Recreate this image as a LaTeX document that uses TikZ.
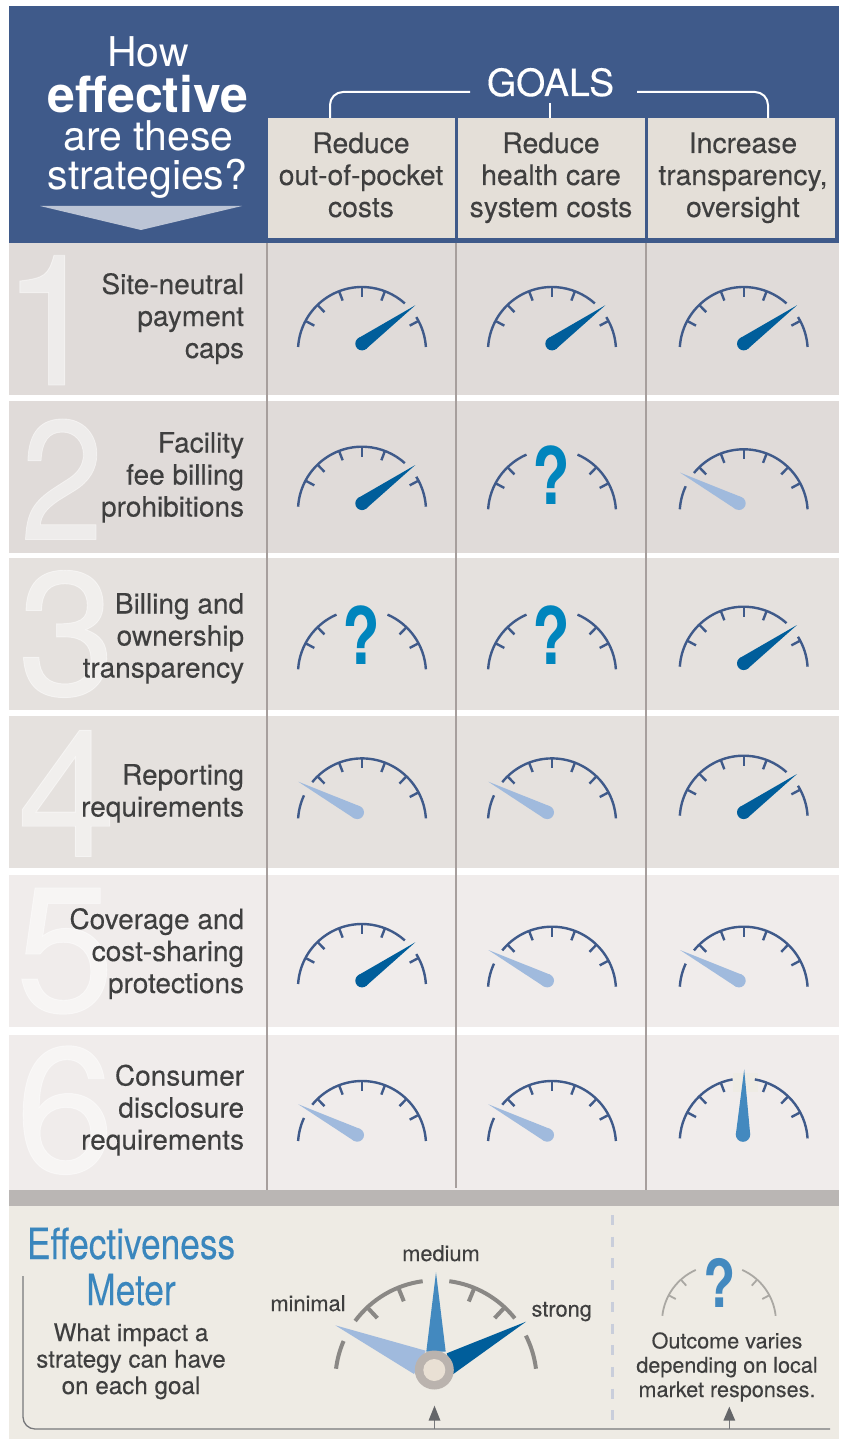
\documentclass[tikz,border=0pt]{standalone}
\usepackage{fontspec}
\setmainfont{TeX Gyre Heros}
\newfontfamily\bodyfont[FakeBold=0.2]{TeX Gyre Heros}
\newfontfamily\digitfont[FakeBold=0.5]{TeX Gyre Heros}
\usetikzlibrary{calc}
\definecolor{hdr}{HTML}{3F5A8A}
\definecolor{goalbg}{HTML}{E4DFD8}
\definecolor{rowa}{HTML}{E0DBD9}
\definecolor{rowb}{HTML}{E5E1DE}
\definecolor{rowc}{HTML}{F0ECEB}
\definecolor{band}{HTML}{BAB6B4}
\definecolor{foot}{HTML}{EEEBE4}
\definecolor{ink}{HTML}{3F3F3F}
\definecolor{weakc}{HTML}{A0BADD}
\definecolor{medc}{HTML}{4389BF}
\definecolor{strongc}{HTML}{005E9B}
\definecolor{qmain}{HTML}{0085BD}
\definecolor{sep}{HTML}{A79F9D}
\definecolor{legarc}{HTML}{8A8885}
\definecolor{legarcb}{HTML}{AAA8A3}
\definecolor{rulec}{HTML}{77787B}
\definecolor{dashc}{HTML}{C9CEDB}
\definecolor{titlec}{HTML}{3A86BD}
\tikzset{
  gaugeline/.style={draw=hdr,line width=2.4pt},
  goalbox/.style={fill=goalbg,inner sep=0pt,minimum width=#1,minimum height=120pt,anchor=north west},
  goaltext/.style={inner sep=0pt,text=ink,align=center,anchor=base,font=\bodyfont\fontsize{28.3}{32}\selectfont},
  rowtext/.style={inner sep=0pt,text=ink,align=right,anchor=base east,font=\bodyfont\fontsize{28}{32}\selectfont},
  digit/.style={inner sep=0pt,anchor=base,text=white,text opacity=.48,font=\digitfont\fontsize{178}{178}\selectfont},
  headtext/.style={inner sep=0pt,text=white,anchor=base},
  leglabel/.style={inner sep=0pt,text=ink,anchor=base,font=\bodyfont\fontsize{21.8}{24}\selectfont},
  sepline/.style={draw=sep,line width=1.2pt},
  ruleline/.style={draw=rulec,line width=1.3pt},
}
\newcommand{\garc}[2]{\draw[gaugeline] (#1:64pt) arc[start angle=#1,end angle=#2,radius=64pt];}
\newcommand{\gticks}[1]{\foreach \a in {#1} \draw[gaugeline] (\a:64pt) -- (\a:54pt);}
\newcommand{\gStrong}[2]{\begin{scope}[shift={(#1,#2+4)},y=1pt]
  \garc{176.4}{48}\garc{32}{3.6}\gticks{152,134,111,90,69,28}
  \fill[strongc] (53.3,45.7) -- (3.9,1.9) -- (-3.9,12.7) -- cycle;
  \fill[strongc] (0,7.3) circle (6.7pt);
\end{scope}}
\newcommand{\gWeak}[2]{\begin{scope}[shift={(#1,#2+4)},y=1pt]
  \garc{176.4}{155}\garc{141}{3.6}\gticks{134,111,90,69,46,28}
  \fill[weakc] (-63.7,40.7) -- (-1.8,16) -- (-7.8,4) -- cycle;
  \fill[weakc] (-4.7,10) circle (6.7pt);
\end{scope}}
\newcommand{\gMed}[2]{\begin{scope}[shift={(#1,#2+4)},y=1pt]
  \fill[foot] (-11,69) rectangle (14,50);
  \garc{176.4}{100}\garc{80}{3.6}\gticks{152,134,111,69,46,28}
  \fill[medc] (.5,73) -- (-7.9,7.8) -- (6.5,7.8) -- cycle;
  \fill[medc] (-.7,7.8) circle (7.2pt);
\end{scope}}
\newcommand{\gQ}[2]{\begin{scope}[shift={(#1,#2+4)},y=1pt]
  \garc{176.4}{113.5}\garc{66.5}{3.6}\gticks{152,134,46,28}
  \node[inner sep=0pt,anchor=base,text=qmain] at (-1,8.5) {\scalebox{.78}[1]{\fontsize{79}{79}\bfseries\selectfont ?}};
\end{scope}}
\begin{document}
\begin{tikzpicture}[x=1pt,y=-1pt]
\useasboundingbox (0,0) rectangle (843,1439);
\fill[white] (0,0) rectangle (843,1439);
% header
\fill[hdr] (9,6) rectangle (839,243);
\node[goalbox=187pt] (goalA) at (268,118) {};
\node[goalbox=187pt] (goalB) at (458,118) {};
\node[goalbox=187pt] (goalC) at (648,118) {};
\node[headtext,font=\fontsize{41}{41}\selectfont] (how) at (148,66.5) {How};
\node[headtext,font=\fontsize{50}{50}\bfseries\selectfont] (eff) at (148,112.5) {effective};
\node[headtext,font=\fontsize{41}{41}\selectfont] (are) at (148.5,151) {are these};
\node[headtext,font=\fontsize{41}{41}\selectfont] (str) at (147.5,190) {strategies?};
\fill[fill=hdr!35!white] (40,206) -- (242,206) -- (141,230) -- cycle;
\node[headtext,font=\bodyfont\fontsize{37.5}{37.5}\selectfont] (goals) at (550.5,96) {GOALS};
\coordinate (bL0) at (330,118); \coordinate (bL1) at (330,92); \coordinate (bL2) at (470,92);
\coordinate (bR0) at (637,92); \coordinate (bR1) at (768,92); \coordinate (bR2) at (768,118);
\coordinate (bM0) at (550,103);
\draw[white,line width=2pt,rounded corners=13pt] (bL0) -- (bL1) -- (bL2);
\draw[white,line width=2pt,rounded corners=13pt] (bR0) -- (bR1) -- (bR2);
\draw[white,line width=2pt] (bM0) -- (bM0 |- goalB.north);
\node[goaltext] (tA) at (361,217) {Reduce\\out-of-pocket\\costs};
\node[goaltext] (tB) at (551,217) {Reduce\\health care\\system costs};
\node[goaltext] (tC) at (743,217) {Increase\\transparency,\\oversight};
% rows
\fill[rowa] (9,243) rectangle (839,395);
\fill[rowa] (9,401) rectangle (839,553);
\fill[rowb] (9,558) rectangle (839,710);
\fill[rowb] (9,716) rectangle (839,868);
\fill[rowc] (9,875) rectangle (839,1027);
\fill[rowc] (9,1035) rectangle (839,1190);
\node[digit,font=\digitfont\fontsize{183}{183}\selectfont] (d1) at (52,385) {1};
\node[digit] (d2) at (62,539.5) {\scalebox{.88}[1]{\fontsize{170}{170}\selectfont 2}};
\node[digit,font=\digitfont\fontsize{176}{176}\selectfont] (d3) at (66.7,695) {3};
\node[digit] (d4) at (66.7,856.5) {4};
\node[digit] (d5) at (65,1011.5) {5};
\node[digit] (d6) at (65,1172) {6};
\node[rowtext] (r1) at (244.3,358) {Site-neutral\\payment\\caps};
\node[rowtext] (r2) at (244.3,516.5) {Facility\\fee billing\\prohibitions};
\node[rowtext] (r3) at (244.3,677.5) {Billing and\\ownership\\transparency};
\node[rowtext] (r4) at (244.3,816.5) {Reporting\\requirements};
\node[rowtext] (r5) at (244.3,993) {Coverage and\\cost-sharing\\protections};
\node[rowtext] (r6) at (244.3,1149.5) {Consumer\\disclosure\\requirements};
\draw[sepline] (267,243) -- (267,1190);
\draw[sepline] (456,243) -- (456,1188);
\draw[sepline] (646,243) -- (646,1190);
% gauges
\gStrong{362}{347}\gStrong{552}{347}\gStrong{743.7}{347}
\gStrong{362}{506.7}\gQ{552}{509.3}\gWeak{743.7}{509.3}
\gQ{362}{669.3}\gQ{552}{669.3}\gStrong{743.7}{666.7}
\gWeak{362}{818.4}\gWeak{552}{818.4}\gStrong{743.7}{815.7}
\gStrong{362}{984}\gWeak{552}{986.7}\gWeak{743.7}{986.7}
\gWeak{362}{1141}\gWeak{552}{1141}\gMed{743.7}{1138.4}
% footer
\fill[band] (9,1190) rectangle (839,1206);
\fill[foot] (9,1206) rectangle (839,1439);
\coordinate (ruleS) at (23,1276); \coordinate (ruleC) at (23,1429); \coordinate (ruleE) at (830,1429);
\draw[ruleline,rounded corners=12pt] (ruleS) -- (ruleC) -- (ruleE);
\node[inner sep=0pt,anchor=base,text=titlec] (t1) at (131,1259) {\scalebox{.82}[1]{\bodyfont\fontsize{43}{43}\selectfont Effectiveness}};
\node[inner sep=0pt,anchor=base,text=titlec] (t2) at (131,1305) {\scalebox{.82}[1]{\bodyfont\fontsize{43}{43}\selectfont Meter}};
\node[inner sep=0pt,anchor=base,text=ink,align=center,font=\bodyfont\fontsize{24.2}{26.5}\selectfont] (t3) at (131,1394) {What impact a\\strategy can have\\on each goal};
\begin{scope}[shift={(436,1381)},y=1pt]
  \tikzset{legline/.style={draw=legarc,line width=4pt}}
  \draw[legline] (173:100.7pt) arc[start angle=173,end angle=156.6,radius=100.7pt];
  \draw[legline] (143.4:100.7pt) arc[start angle=143.4,end angle=97.6,radius=100.7pt];
  \draw[legline] (82.4:100.7pt) arc[start angle=82.4,end angle=38.5,radius=100.7pt];
  \draw[legline] (26.8:100.7pt) arc[start angle=26.8,end angle=7,radius=100.7pt];
  \foreach \a in {133,112,67.6,47} \draw[legline] (\a:100.7pt) -- (\a:86pt);
\end{scope}
\fill[weakc] (335.3,1325.3) -- (425.7,1350.7) -- (414,1374) -- cycle;
\fill[medc] (436,1272.3) -- (426.3,1351.7) -- (445.7,1351.7) -- cycle;
\fill[strongc] (526,1321.7) -- (446.7,1353.3) -- (453.3,1374) -- cycle;
\node[circle,fill=band!95!brown,minimum size=39pt,inner sep=0pt] (knob) at (434.3,1370) {};
\node[circle,fill=foot!90!brown,minimum size=22pt,inner sep=0pt] (knobin) at (knob) {};
\node[leglabel] (lmed) at (441,1261) {medium};
\node[leglabel] (lmin) at (308,1311) {minimal};
\node[leglabel] (lstr) at (561.7,1316.5) {strong};
\coordinate (arrA0) at (434.5,1429); \coordinate (arrA1) at (434.5,1420);
\draw[rulec,line width=1pt] (arrA0) -- (arrA1);
\fill[rulec!85!black] (434.5,1405.7) -- (440.5,1420.7) -- (428.5,1420.7) -- cycle;
\coordinate (arrB0) at (729.3,1429); \coordinate (arrB1) at (729.3,1420);
\draw[rulec,line width=1pt] (arrB0) -- (arrB1);
\fill[rulec!85!black] (729.3,1406.7) -- (735.3,1420.7) -- (723.3,1420.7) -- cycle;
\draw[dashc,line width=3pt,dash pattern=on 10pt off 11.7pt] (612.3,1215) -- (612.3,1420);
\begin{scope}[shift={(719,1322)},y=1pt]
  \tikzset{legb/.style={draw=legarcb,line width=1.8pt}}
  \draw[legb] (173.7:57pt) arc[start angle=173.7,end angle=114,radius=57pt];
  \draw[legb] (66:57pt) arc[start angle=66,end angle=6.3,radius=57pt];
  \foreach \a in {152,132,48,28} \draw[legb] (\a:57pt) -- (\a:49pt);
\end{scope}
\node[inner sep=0pt,anchor=base,text=medc] (legq) at (720,1307.5) {\scalebox{.8}[1]{\fontsize{66}{66}\bfseries\selectfont ?}};
\node[inner sep=0pt,anchor=base,text=ink,align=center,font=\bodyfont\fontsize{21.6}{24.3}\selectfont] (legt) at (727,1397) {Outcome varies\\depending on local\\market responses.};
\end{tikzpicture}
\end{document}
